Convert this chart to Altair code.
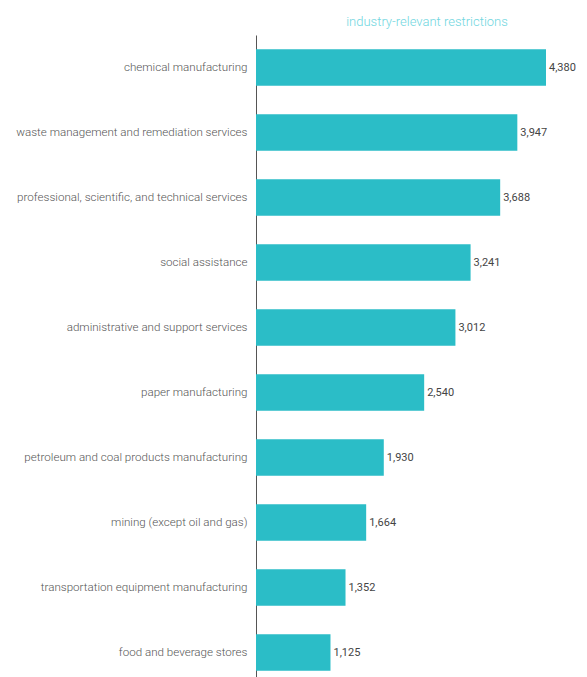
import altair as alt
import pandas as pd

categories = [
    "chemical manufacturing",
    "waste management and remediation services",
    "professional, scientific, and technical services",
    "social assistance",
    "administrative and support services",
    "paper manufacturing",
    "petroleum and coal products manufacturing",
    "mining (except oil and gas)",
    "transportation equipment manufacturing",
    "food and beverage stores",
]
values = [4380, 3947, 3688, 3241, 3012, 2540, 1930, 1664, 1352, 1125]

df = pd.DataFrame({"industry": categories, "value": values})

LABEL_FONT = "Roboto"

y = alt.Y(
    "industry:N",
    sort=categories,
    scale=alt.Scale(paddingInner=0.44, paddingOuter=0.22),
    axis=alt.Axis(
        title=None,
        ticks=False,
        labelPadding=9,
        labelFontSize=11.6,
        labelFont=LABEL_FONT,
        labelFontWeight=300,
        labelColor="#555555",
        domainColor="#555555",
        labelLimit=300,
    ),
)
x = alt.X("value:Q", scale=alt.Scale(domain=[0, 4380], nice=False), axis=None)

bars = alt.Chart(df).mark_bar(color="#2bbdc7").encode(x=x, y=y)
labels = alt.Chart(df).mark_text(
    align="left", baseline="middle", dx=3, fontSize=11, font=LABEL_FONT, color="#444444"
).encode(x=x, y=y, text=alt.Text("value:Q", format=","))

chart = (
    (bars + labels)
    .properties(
        width=290,
        height=650,
        autosize=alt.AutoSizeParams(type="none"),
        padding={"left": 248, "top": 27, "right": 33, "bottom": 0},
        title=alt.TitleParams(
            "industry-relevant restrictions",
            anchor="middle",
            dx=26,
            offset=6,
            fontSize=13,
            fontWeight=300,
            font=LABEL_FONT,
            color="#6fd6e0",
        ),
    )
    .configure_view(stroke=None)
)

chart.save("out.html", embed_options={"renderer": "svg", "actions": False})
